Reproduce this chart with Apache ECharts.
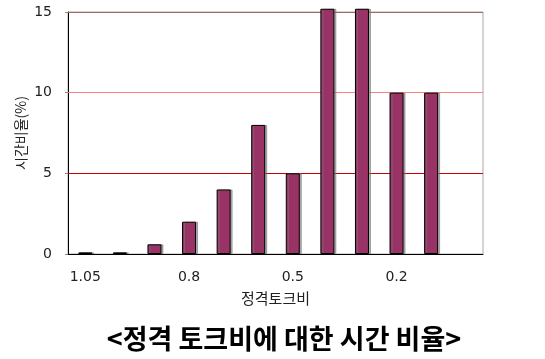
<!DOCTYPE html>
<html><head><meta charset="utf-8">
<script src="https://cdn.jsdelivr.net/npm/echarts@6/dist/echarts.min.js"></script>
<style>html,body{margin:0;padding:0;background:#fff}#c{width:545px;height:359px}</style>
</head><body><div id="c"></div>
<script>
const categories = ['1.05','0.95','0.9','0.8','0.7','0.6','0.5','0.4','0.3','0.2','0.1','0'];
const values = [0.1, 0.1, 0.6, 2, 4, 8, 5, 15.2, 15.2, 10, 10, null];
const yTicks = [0, 5, 10, 15];
const gridLineValues = [5, 10, 15];
const gridLineColors = ['#cc0000', '#ff8080', '#a86868'];

const chart = echarts.init(document.getElementById('c'), null, {renderer:'canvas'});
const font = "'DejaVu Sans', sans-serif";
const kfont = "'Noto Sans CJK KR', sans-serif";
chart.setOption({
  animation: false,
  title: {
    text: '<정격 토크비에 대한 시간 비율>',
    left: 279, top: 320, textAlign: 'center',
    textStyle: {fontFamily: kfont, fontSize: 27, fontWeight: 'bold', color: '#000'}
  },
  grid: {left: 68, right: 62, top: 12, bottom: 105, show: true, borderColor: '#aaa', borderWidth: 1},
  xAxis: {
    type: 'category', data: categories,
    name: '정격토크비', nameLocation: 'middle', nameGap: 37,
    nameTextStyle: {fontFamily: kfont, fontSize: 15, color: '#222'},
    axisLine: {lineStyle: {color: '#000', width: 1}},
    axisTick: {inside: true, length: 4, lineStyle: {color: '#000'}},
    axisLabel: {interval: 2, margin: 16, fontFamily: font, fontSize: 14, color: '#222'}
  },
  yAxis: {
    type: 'value', min: 0, max: 15, interval: 5,
    name: '시간비율(%)', nameLocation: 'middle', nameGap: 40, nameRotate: 90,
    nameMoveOverlap: false,
    nameTextStyle: {fontFamily: kfont, fontSize: 14, color: '#222'},
    axisLine: {show: true, lineStyle: {color: '#000', width: 1}},
    axisTick: {show: true, length: 3, lineStyle: {color: '#888'}},
    axisLabel: {margin: 16, fontFamily: font, fontSize: 14, color: '#222',
      formatter: v => yTicks.includes(v) ? String(v) : ''},
    splitLine: {show: false}
  },
  series: [{
    type: 'bar', data: values, barWidth: 14, clip: false,
    itemStyle: {color: '#993366', borderColor: '#000', borderWidth: 1,
      shadowColor: 'rgba(120,120,120,0.6)', shadowOffsetX: 2, shadowOffsetY: 0, shadowBlur: 0},
    markLine: {
      silent: true, symbol: 'none', label: {show: false}, z: 1,
      data: gridLineValues.map((v, i) => ({yAxis: v, lineStyle: {color: gridLineColors[i], width: 1, type: 'solid'}}))
    }
  }]
});
</script></body></html>
